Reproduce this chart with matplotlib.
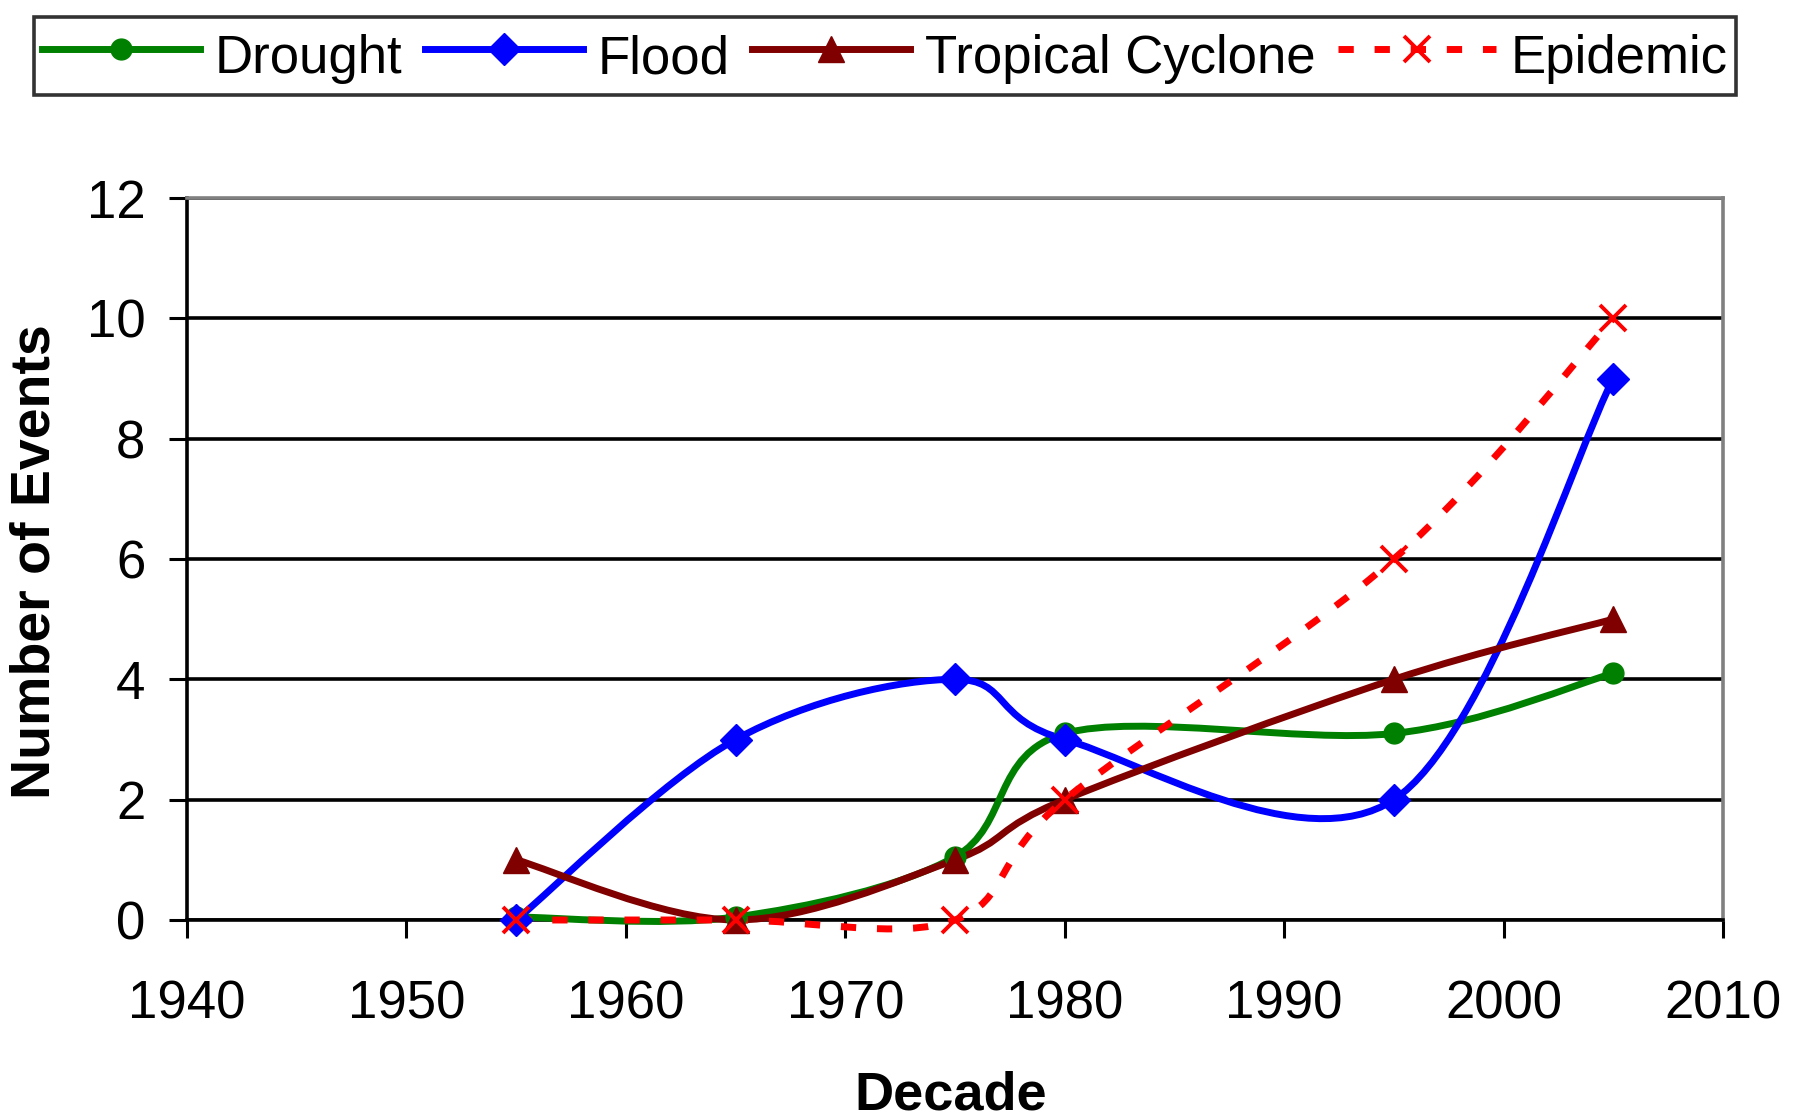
import numpy as np
import matplotlib
matplotlib.use("Agg")
import matplotlib.pyplot as plt
from matplotlib.path import Path
from matplotlib.patches import PathPatch
from matplotlib.lines import Line2D

plt.rcParams['font.family'] = ['Liberation Sans', 'DejaVu Sans']

# ---- data ----
decades = [1955, 1965, 1975, 1980, 1995, 2005]
drought = [0.05, 0.05, 1.05, 3.1, 3.1, 4.1]
flood = [0, 3, 4, 3, 2, 9]
cyclone = [1, 0, 1, 2, 4, 5]
epidemic = [0, 0, 0, 2, 6, 10]

series_names = ["Drought", "Flood", "Tropical Cyclone", "Epidemic"]
xticks = [1940, 1950, 1960, 1970, 1980, 1990, 2000, 2010]
yticks = [0, 2, 4, 6, 8, 10, 12]

FS = 38
LW = 5

def smooth_path(x, y):
    """Excel-style smoothed line, drawn as cubic Bezier segments."""
    pts = np.column_stack([x, y]).astype(float)
    n = len(pts)
    verts = [pts[0]]
    codes = [Path.MOVETO]
    for i in range(n - 1):
        p0 = pts[i - 1] if i > 0 else pts[i]
        p1 = pts[i]
        p2 = pts[i + 1]
        p3 = pts[i + 2] if i + 2 < n else pts[i + 1]
        c1 = p1 + (p2 - p0) / 6.0
        c2 = p2 - (p3 - p1) / 6.0
        verts += [c1, c2, p2]
        codes += [Path.CURVE4] * 3
    return Path(verts, codes)

fig = plt.figure(figsize=(17.96, 11.17), dpi=100)
ax = fig.add_axes([187 / 1796, 1 - 920 / 1117, (1723 - 187) / 1796, (920 - 198) / 1117])

styles = [
    dict(color="#008000", marker="o", ms=15, ls="-", dashes=None, mew=1),
    dict(color="#0000FF", marker="D", ms=16, ls="-", dashes=None, mew=1),
    dict(color="#800000", marker="^", ms=19, ls="-", dashes=None, mew=1),
    dict(color="#FF0000", marker="x", ms=19, ls="--", dashes=(2.2, 3.0), mew=2.8),
]
data = [drought, flood, cyclone, epidemic]

handles = []
for name, vals, st in zip(series_names, data, styles):
    p = PathPatch(smooth_path(decades, vals), facecolor="none", edgecolor=st["color"],
                  lw=LW, clip_on=False, zorder=3, capstyle="butt", joinstyle="round")
    if st["dashes"]:
        p.set_linestyle((0, st["dashes"]))
    ax.add_patch(p)
    ax.plot(decades, vals, ls="none", marker=st["marker"], ms=st["ms"], color=st["color"],
            mew=st["mew"], clip_on=False, zorder=4)
    h = Line2D([], [], color=st["color"], lw=LW, marker=st["marker"], ms=st["ms"],
               mew=st["mew"])
    if st["dashes"]:
        h.set_dashes(st["dashes"])
    h.set_dash_capstyle("butt")
    handles.append(h)

ax.set_xlim(1940, 2010)
ax.set_ylim(0, 12)
ax.set_xticks(xticks)
ax.set_yticks(yticks)
ax.tick_params(axis="both", labelsize=FS, direction="out", length=13, width=2.2, colors="black")
ax.tick_params(axis="y", pad=17)
ax.tick_params(axis="x", pad=30)

ax.yaxis.grid(True, color="black", lw=2.6)
ax.set_axisbelow(True)
for s in ["left", "bottom"]:
    ax.spines[s].set_color("black")
    ax.spines[s].set_linewidth(2.6)
for s in ["top", "right"]:
    ax.spines[s].set_color("#808080")
    ax.spines[s].set_linewidth(2.6)

fig.text(36 / 1796, 0.497, "Number of Events", rotation=90, ha="center", va="center",
         fontsize=40, fontweight="bold")
fig.text(951 / 1796, 0.007, "Decade", ha="center", va="baseline", fontsize=39, fontweight="bold")

leg = fig.legend(handles=handles, labels=series_names, ncol=4,
                 loc="center", bbox_to_anchor=(885 / 1796, 1 - 56 / 1117),
                 bbox_transform=fig.transFigure,
                 fontsize=FS, frameon=True, fancybox=False, shadow=False,
                 handlelength=3.0, handletextpad=0.28, columnspacing=0.42,
                 handleheight=1.45, borderpad=0.15, numpoints=1, markerscale=1.0)
leg.get_frame().set_edgecolor("black")
leg.get_frame().set_linewidth(2.6)

fig.savefig("out.png", dpi=100)
